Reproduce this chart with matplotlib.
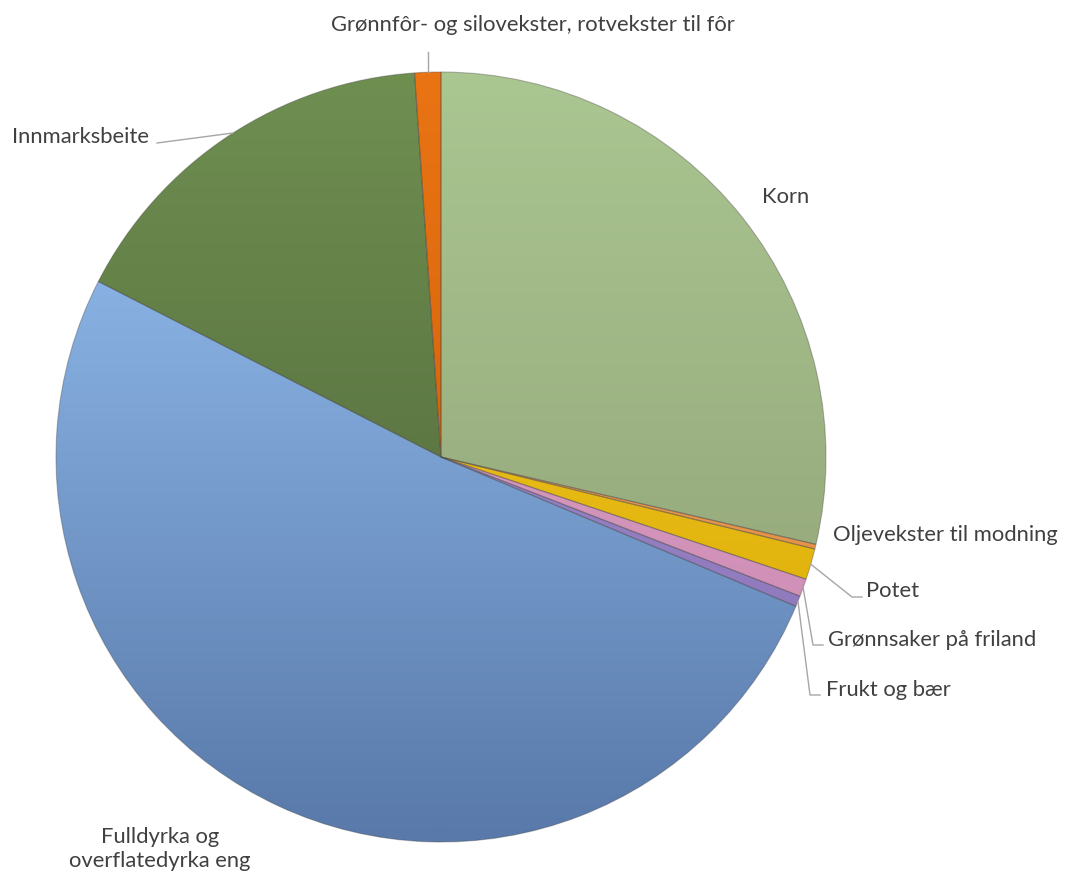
import numpy as np
import matplotlib
matplotlib.use("Agg")
import matplotlib.pyplot as plt
from matplotlib.colors import LinearSegmentedColormap

# ---- data (percent of area) ----
categories = ["Korn", "Oljevekster til modning", "Potet", "Grønnsaker på friland",
              "Frukt og bær", "Fulldyrka og\noverflatedyrka eng", "Innmarksbeite",
              "Grønnfôr- og silovekster, rotvekster til fôr"]
values = [28.7, 0.2, 1.3, 0.75, 0.45, 51.3, 16.4, 1.1]

top_colors = ["#aac691", "#f5ab66", "#f7cc2a", "#e3a9cc", "#a793d4", "#9ac6f8", "#6f8f51", "#ea7414"]
bottom_colors = ["#8d9c72", "#d9843a", "#d8a800", "#c784ad", "#8670b4", "#5879a9", "#4b6035", "#c45a05"]

plt.rcParams['font.family'] = ['Lato', 'DejaVu Sans']
W, H = 1072, 877
fig = plt.figure(figsize=(W / 100, H / 100), dpi=100)
ax = fig.add_axes([0, 0, 1, 1])

cx, cy, r = 441, H - 457, 385
wedges, _ = ax.pie(values, center=(cx, cy), radius=r, startangle=90, counterclock=False,
                   colors=top_colors, wedgeprops=dict(linewidth=0), frame=True)

grad = np.linspace(0, 1, 256)[:, None]
for w, c1, c2 in zip(wedges, top_colors, bottom_colors):
    cmap = LinearSegmentedColormap.from_list("g", [c1, c2])
    im = ax.imshow(grad, cmap=cmap, extent=(cx - r, cx + r, cy - r, cy + r),
                   origin="upper", aspect="auto", zorder=1, interpolation="bilinear")
    im.set_clip_path(w)
    w.set_facecolor("none")
    w.set_edgecolor((0.25, 0.25, 0.25, 0.35))
    w.set_linewidth(0.8)
    w.set_zorder(2)

ax.set_xlim(0, W)
ax.set_ylim(0, H)
ax.set_aspect("equal")
ax.axis("off")

txt = dict(color="#404040", fontsize=15.8)
lc = "#a6a6a6"

def edge_point(w, frac=1.0):
    ang = np.deg2rad((w.theta1 + w.theta2) / 2)
    return cx + r * frac * np.cos(ang), cy + r * frac * np.sin(ang)

def py(y):
    return H - y

# Korn
ax.text(786, py(197), categories[0], ha="center", va="center", **txt)
# Oljevekster
ax.text(833, py(535), categories[1], ha="left", va="center", **txt)
# Potet
x0, y0 = edge_point(wedges[2])
ax.plot([x0, 852, 862], [y0, py(597), py(597)], color=lc, lw=1)
ax.text(866, py(591), categories[2], ha="left", va="center", **txt)
# Grønnsaker
x0, y0 = edge_point(wedges[3])
ax.plot([x0, 813, 823], [y0, py(645), py(645)], color=lc, lw=1)
ax.text(828, py(640), categories[3], ha="left", va="center", **txt)
# Frukt og bær
x0, y0 = edge_point(wedges[4])
ax.plot([x0, 810, 820], [y0, py(695), py(695)], color=lc, lw=1)
ax.text(826, py(690), categories[4], ha="left", va="center", **txt)
# Fulldyrka
ax.text(160, py(849), categories[5], ha="center", va="center", linespacing=1.2, **txt)
# Innmarksbeite
ax.plot([233, 157], [py(133), py(143)], color=lc, lw=1)
ax.text(12, py(137), categories[6], ha="left", va="center", **txt)
# Grønnfôr
x0, y0 = edge_point(wedges[7])
ax.plot([x0, x0], [y0, py(52)], color=lc, lw=1)
ax.text(533, py(25), categories[7], ha="center", va="center", **txt)

fig.savefig("out.png", dpi=100, facecolor="white")
